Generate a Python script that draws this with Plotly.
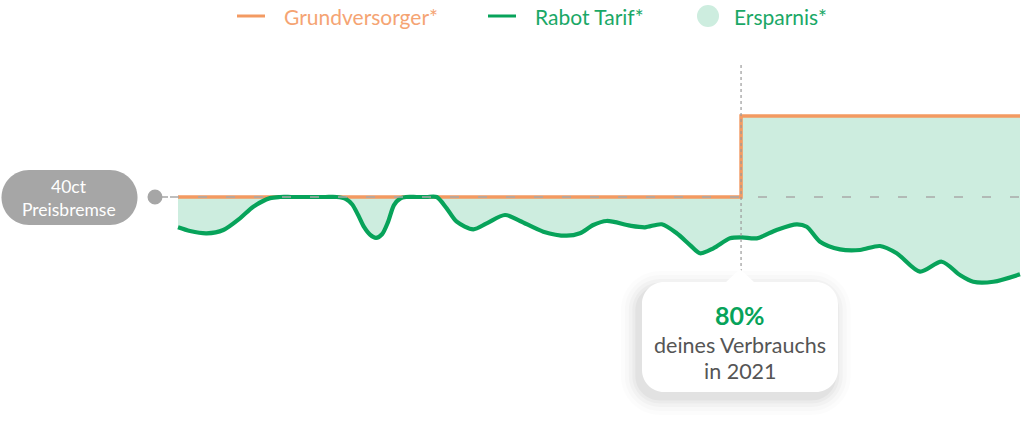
import plotly.graph_objects as go

# ---- data ----
# x: consumption index (0..100), y: price in ct/kWh
grund_x = [0, 66.87, 100]
grund_y = [40, 50, 50]

rabot_x = [0, 1.43, 3.41, 5.38, 7.36, 8.94, 10.93, 12.11, 13.46, 14.80, 16.15, 17.50, 18.85,
           19.95, 20.67, 21.38, 22.09, 22.80, 23.52, 24.23, 24.94, 25.65, 26.37, 27.08,
           28.35, 29.53, 30.72,
           31.91, 33.10, 35.07, 36.66, 38.84, 40.62,
           43.38, 46.16, 47.74, 49.32, 50.91, 53.68, 55.46, 57.45, 59.23, 60.81, 62.00,
           63.58, 65.56, 66.95, 68.73, 71.10, 73.48, 74.67, 76.25, 78.62, 81.00, 83.37,
           85.36, 88.12, 90.70, 92.87, 94.45, 96.83, 100]
rabot_y = [36.26, 35.80, 35.52, 35.93, 37.37, 38.80, 39.86, 40, 40, 40, 40, 40, 40,
           39.75, 39.1, 37.8, 36.3, 35.35, 34.95, 35.4, 36.9, 39.0, 39.8, 40,
           40, 40, 40,
           38.60, 36.95, 36.01, 36.75, 37.78, 37.04,
           35.72, 35.22, 35.52, 36.54, 37.04, 36.46, 36.26, 36.63, 35.52, 34.07, 33.05,
           33.67, 34.90, 35.02, 34.90, 35.93, 36.63, 36.33, 34.48, 33.54, 33.46, 33.95,
           33.05, 30.78, 32.01, 30.37, 29.54, 29.54, 30.46]

price_cap = 40          # ct
marker_x = 66.87        # 80% of 2021 consumption
legend_names = ["Grundversorger*", "Rabot Tarif*", "Ersparnis*"]
cap_label = ["40ct", "Preisbremse"]
callout = ["80%", "deines Verbrauchs", "in 2021"]

# ---- styling ----
ORANGE = "#f39a62"
GREEN = "#07a35a"
FILL = "#cdeddf"
GRAY = "#a6a6a6"
FONT = "Lato"

W, H = 1024, 431
X0PX, XPXU = 178.0, 8.42      # x=0 at px 178, 8.42 px per unit
Y40PX, YPXU = 197.0, 8.1      # y=40 at px 197, 8.1 px per ct
xr = [(0 - X0PX) / XPXU, (W - X0PX) / XPXU]
yr = [40 - (H - Y40PX) / YPXU, 40 + Y40PX / YPXU]


def px2x(p):
    return (p - X0PX) / XPXU


def px2y(p):
    return 40 - (p - Y40PX) / YPXU


fig = go.Figure()
fig.add_trace(go.Scatter(x=grund_x, y=grund_y, mode="lines", line=dict(color=ORANGE, width=3.5, shape="hv"),
                         showlegend=False, hoverinfo="skip"))
fig.add_trace(go.Scatter(x=rabot_x, y=rabot_y, mode="lines", fill="tonexty", fillcolor=FILL,
                         line=dict(color=GREEN, width=4.2, shape="spline", smoothing=0.8),
                         showlegend=False, hoverinfo="skip"))

shapes = []
shapes.append(dict(type="line", x0=px2x(170), x1=100, y0=price_cap, y1=price_cap, layer="above",
                   line=dict(color="#a9a9a9", width=1.5, dash="9px,19px")))
shapes.append(dict(type="line", x0=px2x(160), x1=px2x(168), y0=price_cap, y1=price_cap,
                   line=dict(color=GRAY, width=1.5)))
shapes.append(dict(type="circle", xref="x", yref="y", xsizemode="pixel", ysizemode="pixel",
                   xanchor=px2x(155), yanchor=price_cap, x0=-7.5, x1=7.5, y0=-7.5, y1=7.5,
                   fillcolor=GRAY, line=dict(width=0)))


def rounded_rect(w, h, r):
    k = 0.5523 * r
    hw, hh = w / 2, h / 2
    return (f"M {-hw + r},{hh} L {hw - r},{hh} C {hw - r + k},{hh} {hw},{hh - r + k} {hw},{hh - r} "
            f"L {hw},{-hh + r} C {hw},{-hh + r - k} {hw - r + k},{-hh} {hw - r},{-hh} "
            f"L {-hw + r},{-hh} C {-hw + r - k},{-hh} {-hw},{-hh + r - k} {-hw},{-hh + r} "
            f"L {-hw},{hh - r} C {-hw},{hh - r + k} {-hw + r - k},{hh} {-hw + r},{hh} Z")


shapes.append(dict(type="path", xsizemode="pixel", ysizemode="pixel", xanchor=px2x(69.5), yanchor=px2y(197.5),
                   path=rounded_rect(136, 55, 27.5), fillcolor=GRAY, line=dict(width=0)))

shapes.append(dict(type="line", x0=marker_x, x1=marker_x, y0=px2y(65), y1=px2y(280), layer="above",
                   line=dict(color="#9a9a9a", width=1.2, dash="dot")))

cx, cy = px2x(740), px2y(337)
for grow, op in [(34, 0.012), (26, 0.016), (18, 0.022), (11, 0.028), (5, 0.035)]:
    shapes.append(dict(type="path", xsizemode="pixel", ysizemode="pixel", xanchor=cx - 0.5, yanchor=px2y(343),
                       path=rounded_rect(196 + grow, 110 + grow, 22 + grow / 2), fillcolor="#000000",
                       opacity=op, line=dict(width=0), layer="above"))
hw, hh, r = 98, 55, 22
k = 0.5523 * r
box = (f"M {-hw + r},{hh} L -14,{hh} L 0,{hh + 13} L 14,{hh} L {hw - r},{hh} "
       f"C {hw - r + k},{hh} {hw},{hh - r + k} {hw},{hh - r} "
       f"L {hw},{-hh + r} C {hw},{-hh + r - k} {hw - r + k},{-hh} {hw - r},{-hh} "
       f"L {-hw + r},{-hh} C {-hw + r - k},{-hh} {-hw},{-hh + r - k} {-hw},{-hh + r} "
       f"L {-hw},{hh - r} C {-hw},{hh - r + k} {-hw + r - k},{hh} {-hw + r},{hh} Z")
shapes.append(dict(type="path", xsizemode="pixel", ysizemode="pixel", xanchor=cx, yanchor=cy,
                   path=box, fillcolor="white", line=dict(width=0), layer="above"))

shapes.append(dict(type="line", x0=px2x(237), x1=px2x(265), y0=px2y(16), y1=px2y(16),
                   line=dict(color=ORANGE, width=3)))
shapes.append(dict(type="line", x0=px2x(488), x1=px2x(516), y0=px2y(16), y1=px2y(16),
                   line=dict(color=GREEN, width=3)))
shapes.append(dict(type="circle", xsizemode="pixel", ysizemode="pixel", xanchor=px2x(708), yanchor=px2y(16),
                   x0=-11, x1=11, y0=-11, y1=11, fillcolor=FILL, line=dict(width=0)))

ann = []


def txt(t, xp, yp, size, color, anchor="center", bold=False):
    ann.append(dict(x=px2x(xp), y=px2y(yp), text=f"<b>{t}</b>" if bold else t, showarrow=False,
                    xanchor=anchor, yanchor="middle", font=dict(family=FONT, size=size, color=color)))


txt(legend_names[0], 282, 16, 21, "#f5a473", "left")
txt(legend_names[1], 533, 16, 21, "#1aa866", "left")
txt(legend_names[2], 732, 16, 21, "#1aa866", "left")
txt(cap_label[0], 69, 186, 17.5, "white")
txt(cap_label[1], 69, 209, 17.5, "white")
txt(callout[0], 740, 315, 25, GREEN, bold=True)
txt(callout[1], 740, 345, 21.5, "#555555")
txt(callout[2], 740, 371, 21.5, "#555555")

fig.update_layout(
    width=W, height=H, margin=dict(l=0, r=0, t=0, b=0),
    paper_bgcolor="white", plot_bgcolor="white",
    xaxis=dict(range=xr, visible=False, fixedrange=True),
    yaxis=dict(range=yr, visible=False, fixedrange=True),
    shapes=shapes, annotations=ann, showlegend=False,
)
fig.write_html("out.html", config={"displayModeBar": False},
               post_script="document.body.style.margin='0';document.body.style.overflow='hidden';")
